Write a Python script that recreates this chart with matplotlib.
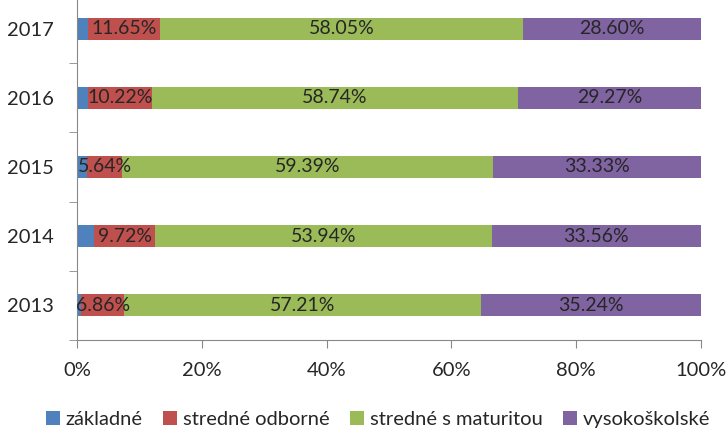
import numpy as np
import matplotlib.pyplot as plt

plt.rcParams['font.family'] = ['Lato', 'DejaVu Sans']

# dáta z grafu (podiely v %)
roky = ['2013', '2014', '2015', '2016', '2017']
zakladne = [0.69, 2.78, 1.64, 1.77, 1.70]
stredne_odborne = [6.86, 9.72, 5.64, 10.22, 11.65]
stredne_maturita = [57.21, 53.94, 59.39, 58.74, 58.05]
vysokoskolske = [35.24, 33.56, 33.33, 29.27, 28.60]

nazvy = ['základné', 'stredné odborné', 'stredné s maturitou', 'vysokoškolské']
farby = ['#4F81BD', '#C0504D', '#9BBB59', '#8064A2']
rady = [zakladne, stredne_odborne, stredne_maturita, vysokoskolske]

fig = plt.figure(figsize=(7.27, 4.28), dpi=100)
ax = fig.add_axes([77 / 727, 88 / 428, 624 / 727, 346 / 428])

y = np.arange(len(roky))
vlavo = np.zeros(len(roky))
for i, (nazov, farba, hodnoty) in enumerate(zip(nazvy, farby, rady)):
    hodnoty = np.array(hodnoty) / 100
    ax.barh(y, hodnoty, left=vlavo, height=0.32, color=farba, label=nazov)
    if i > 0:
        for yy, l, h in zip(y, vlavo, hodnoty):
            ax.text(l + h / 2, yy, f'{h * 100:.2f}%', ha='center', va='center',
                    fontsize=14, color='#262626')
    vlavo += hodnoty

ax.set_xlim(0, 1)
ax.set_ylim(-0.5, 4.5)
ax.set_xticks(np.arange(0, 1.01, 0.2))
ax.set_xticklabels([f'{int(v * 100)}%' for v in np.arange(0, 1.01, 0.2)])
ax.set_yticks(y)
ax.set_yticklabels(roky)
ax.set_yticks(np.arange(-0.5, 4.6, 1), minor=True)
ax.tick_params(axis='y', which='major', length=0, pad=17, labelsize=14.5, labelcolor='#262626')
ax.tick_params(axis='y', which='minor', length=6, color='#888888')
ax.tick_params(axis='x', length=6, color='#888888', labelsize=14.5, labelcolor='#262626', pad=10)
for s in ['top', 'right']:
    ax.spines[s].set_visible(False)
for s in ['left', 'bottom']:
    ax.spines[s].set_color('#888888')

fig.legend(loc='lower center', ncol=4, frameon=False, fontsize=14.5, handlelength=0.7,
           handleheight=0.7, handletextpad=0.3, columnspacing=1.0,
           bbox_to_anchor=(0.52, -0.042), labelcolor='#262626')

fig.savefig('out.png', dpi=100)
